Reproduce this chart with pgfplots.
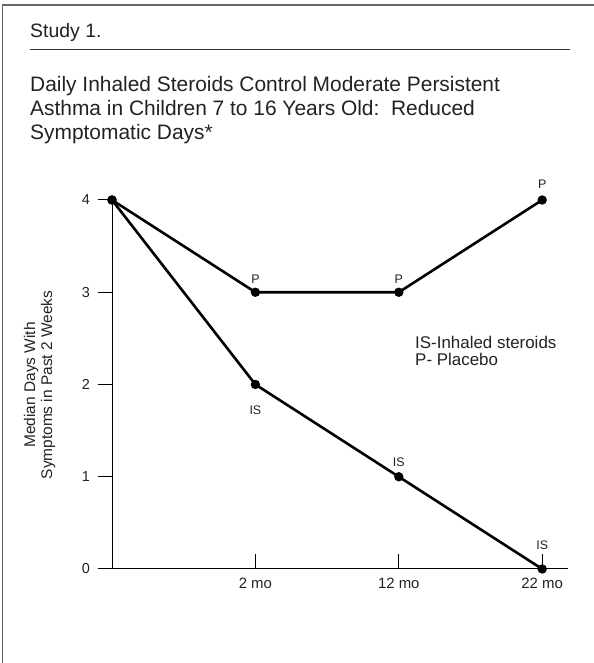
\documentclass[border=0pt]{standalone}
\usepackage{fontspec}
\setmainfont{Liberation Sans}
\usepackage{pgfplots}
\pgfplotsset{compat=1.18}
\definecolor{framegray}{HTML}{666666}
\definecolor{txt}{HTML}{222222}
\begin{document}
\begin{tikzpicture}[x=1bp,y=1bp]
\useasboundingbox (0,0) rectangle (594,663);
\draw[framegray, line width=1.4bp] (2.5,0) -- (2.5,658) -- (594,658);
\node[anchor=base west, inner sep=0, text=txt, font=\fontsize{19.5}{22}\selectfont] at (30,625) {Study 1.};
\draw[black!80, line width=1bp] (30,613) -- (570,613);
\node[anchor=base west, inner sep=0, text=txt, font=\fontsize{21}{24}\selectfont] at (30,571) {Daily Inhaled Steroids Control Moderate Persistent};
\node[anchor=base west, inner sep=0, text=txt, font=\fontsize{21}{24}\selectfont] at (30,547) {Asthma in Children 7 to 16 Years Old:\ \ Reduced};
\node[anchor=base west, inner sep=0, text=txt, font=\fontsize{21}{24}\selectfont] at (30,523) {Symptomatic Days*};
\node[rotate=90, anchor=base, inner sep=0, text=txt, font=\fontsize{15.5}{17}\selectfont] at (35,278) {Median Days With};
\node[rotate=90, anchor=base, inner sep=0, text=txt, font=\fontsize{15.5}{17}\selectfont] at (52,278) {Symptoms in Past 2 Weeks};
\begin{axis}[
  at={(112bp,94bp)}, anchor=south west, scale only axis,
  width=456bp, height=369bp,
  xmin=0, xmax=3.18, ymin=0, ymax=4,
  axis x line=bottom, axis y line=left,
  axis line style={-, line width=1bp, black},
  xtick={1,2,3}, xticklabels={2 mo,12 mo,22 mo},
  ytick={0,1,2,3,4},
  xtick align=inside, ytick align=outside,
  major tick length=14.5bp,
  tick style={black, line width=1bp},
  ticklabel style={font=\fontsize{15}{18}\selectfont, text=txt},
  yticklabel style={font=\fontsize{14.5}{18}\selectfont, xshift=-4bp},
  xticklabel style={yshift=-6bp},
  /pgf/number format/assume math mode=true,
  clip=false,
]
\addplot[black, line width=2.6bp, mark=*, mark size=3.3bp, mark options={solid, fill=black}]
  coordinates {(0,4) (1,2) (2,1) (3,0)};
\addplot[black, line width=2.6bp, mark=*, mark size=3.3bp, mark options={solid, fill=black}]
  coordinates {(0,4) (1,3) (2,3) (3,4)};
\node[font=\fontsize{12.5}{14}\selectfont, text=txt, inner sep=0, yshift=13bp] at (axis cs:1,3) {P};
\node[font=\fontsize{12.5}{14}\selectfont, text=txt, inner sep=0, yshift=13bp] at (axis cs:2,3) {P};
\node[font=\fontsize{12.5}{14}\selectfont, text=txt, inner sep=0, yshift=16bp] at (axis cs:3,4) {P};
\node[font=\fontsize{12.5}{14}\selectfont, text=txt, inner sep=0, yshift=-26bp] at (axis cs:1,2) {IS};
\node[font=\fontsize{12.5}{14}\selectfont, text=txt, inner sep=0, yshift=15bp] at (axis cs:2,1) {IS};
\node[font=\fontsize{12.5}{14}\selectfont, text=txt, inner sep=0, yshift=24bp] at (axis cs:3,0) {IS};
\end{axis}
\node[anchor=base west, inner sep=0, text=txt, font=\fontsize{17}{18}\selectfont] at (415,314) {IS-Inhaled steroids};
\node[anchor=base west, inner sep=0, text=txt, font=\fontsize{17}{18}\selectfont] at (415,297) {P- Placebo};
\end{tikzpicture}
\end{document}
